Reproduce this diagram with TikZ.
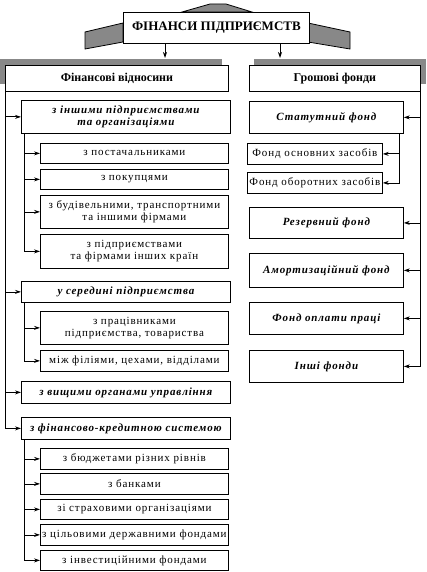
\documentclass[tikz,border=0pt]{standalone}
\usepackage{fontspec}
\setmainfont{Liberation Serif}
\newfontfamily\wide{Liberation Serif}[LetterSpace=8]
\usetikzlibrary{arrows.meta}
\definecolor{shadow}{RGB}{136,136,136}

\begin{document}
\begin{tikzpicture}
	[x=1pt,y=-1pt,
	every node/.style={draw,fill=white,inner sep=0pt,anchor=north west,align=center,line width=.8pt},
	title/.style={font=\fontsize{13}{15}\selectfont\bfseries},
	head/.style={font=\fontsize{12}{14}\selectfont\bfseries,minimum height=26pt},
	cat/.style={font=\fontsize{11}{12}\selectfont\wide\bfseries\itshape,minimum width=209pt},
	item/.style={font=\fontsize{11}{12}\selectfont\wide,minimum width=188pt},
	fund/.style={cat,minimum width=154pt},
	link/.style={line width=.8pt,-{Stealth[length=6pt,width=4pt]}}]
	\useasboundingbox (0,0) rectangle (426,572);
	% grey roof and shadows
	\filldraw [fill=shadow,line width=.8pt] (182,12) -- (210,4) -- (226,4) -- (252,12) -- cycle;
	\filldraw [fill=shadow,line width=.8pt] (85,32) -- (123,23) -- (123,42) -- (85,49) -- cycle;
	\filldraw [fill=shadow,line width=.8pt] (308,23) -- (350,32) -- (350,49) -- (308,42) -- cycle;
	\fill [shadow] (0,59) rectangle (222,84);
	\fill [shadow] (254,59) rectangle (426,84);
	\node (top) [title,minimum width=186pt,minimum height=31pt] at (123,12) {ФІНАНСИ ПІДПРИЄМСТВ};
	\node (fl) [head,minimum width=223pt] at (5,65) {Фінансові відносини};
	\node (gf) [head,minimum width=171pt] at (249,65) {Грошові фонди};
	\coordinate (t1) at (165,58);
	\coordinate (t2) at (280,58);
	% left column
	\node (k1) [cat,minimum height=33pt] at (21,100) {з іншими підприємствами\\та організаціями};
	\node (s11) [item,minimum height=20pt] at (40,143) {з постачальниками};
	\node (s12) [item,minimum height=20pt] at (40,169) {з покупцями};
	\node (s13) [item,minimum height=33pt] at (40,195) {з будівельними, транспортними\\та іншими фірмами};
	\node (s14) [item,minimum height=34pt] at (40,234) {з підприємствами\\та фірмами інших країн};
	\node (k2) [cat,minimum height=21pt] at (21,281) {у середині підприємства};
	\node (s21) [item,minimum height=33pt] at (40,311) {з працівниками\\підприємства, товариства};
	\node (s22) [item,minimum height=21pt] at (40,350) {між філіями, цехами, відділами};
	\node (k3) [cat,minimum height=22pt] at (21,381) {з вищими органами управління};
	\node (k4) [cat,minimum height=22pt] at (21,417) {з фінансово-кредитною системою};
	\node (s41) [item,minimum height=21pt] at (40,448) {з бюджетами різних рівнів};
	\node (s42) [item,minimum height=21pt] at (40,473) {з банками};
	\node (s43) [item,minimum height=20pt] at (40,499) {зі страховими організаціями};
	\node (s44) [item,minimum height=21pt] at (40,524) {з цільовими державними фондами};
	\node (s45) [item,minimum height=20pt] at (40,550) {з інвестиційними фондами};
	% right column
	\node (r1) [fund,minimum height=32pt] at (249,101) {Статутний фонд};
	\node (r11) [item,minimum width=135pt,minimum height=21pt] at (247,143) {Фонд основних засобів};
	\node (r12) [item,minimum width=135pt,minimum height=21pt] at (247,172) {Фонд оборотних засобів};
	\node (r2) [fund,minimum height=31pt] at (249,207) {Резервний фонд};
	\node (r3) [fund,minimum height=34pt] at (249,253) {Амортизаційний фонд};
	\node (r4) [fund,minimum height=32pt] at (249,302) {Фонд оплати праці};
	\node (r5) [fund,minimum height=32pt] at (249,350) {Інші фонди};
	\draw [link] (top.south -| t1) -- (t1);
	\draw [link] (top.south -| t2) -- (t2);
	\foreach \k in {k1,k2,k3,k4}
		\draw [link] (fl.south west) |- (\k.west);
	\foreach \s in {s11,s12,s13,s14}
		\draw [link] ([xshift=3pt]k1.south west) |- (\s.west);
	\foreach \s in {s21,s22}
		\draw [link] ([xshift=3pt]k2.south west) |- (\s.west);
	\foreach \s in {s41,s42,s43,s44,s45}
		\draw [link] ([xshift=3pt]k4.south west) |- (\s.west);
	\foreach \r in {r1,r2,r3,r4,r5}
		\draw [link] (gf.south east) |- (\r.east);
	\foreach \r in {r11,r12}
		\draw [link] ([xshift=-4pt]r1.south east) |- (\r.east);
\end{tikzpicture}
\end{document}
